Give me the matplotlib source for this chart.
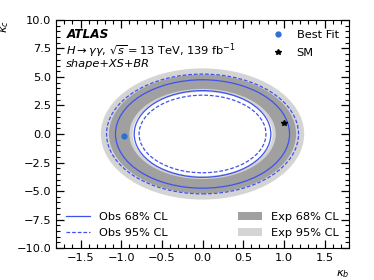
import matplotlib
matplotlib.use("Agg")
import matplotlib.pyplot as plt
from matplotlib.patches import Ellipse, Patch
from matplotlib.lines import Line2D

# ellipse half-widths (kappa_b) and half-heights (kappa_c)
exp95_outer = (1.25, 5.75)
exp68_outer = (1.15, 5.20)
exp68_inner = (0.90, 3.95)
exp95_inner = (0.86, 3.68)
obs68 = [(1.07, 4.75), (0.84, 3.80)]
obs95 = [(1.18, 5.25), (0.78, 3.40)]
best_fit = (-0.97, -0.2)
sm_point = (1.0, 1.0)

blue = '#3f52ee'
dark_gray = '#a0a0a0'
light_gray = '#d4d4d4'
fs = 8.2

fig = plt.figure(figsize=(3.74, 2.8), dpi=100)
ax = fig.add_axes([0.150, 0.114, 0.783, 0.815])

# filled expected bands, stacked from outside in
for (w, h), c in [(exp95_outer, light_gray), (exp68_outer, dark_gray),
                  (exp68_inner, light_gray), (exp95_inner, 'white')]:
    ax.add_patch(Ellipse((0, 0), 2 * w, 2 * h, facecolor=c, edgecolor='none', zorder=1))

for w, h in obs68:
    ax.add_patch(Ellipse((0, 0), 2 * w, 2 * h, facecolor='none', edgecolor=blue, lw=0.9, zorder=3))
for w, h in obs95:
    ax.add_patch(Ellipse((0, 0), 2 * w, 2 * h, facecolor='none', edgecolor=blue, lw=0.9,
                         ls=(0, (3, 1.5)), zorder=3))

ax.plot(*best_fit, 'o', color='#2f6fd0', ms=3.5, zorder=4)
ax.plot(*sm_point, '*', color='black', ms=4, zorder=4)

ax.set_xlabel(r'$\kappa_b$', fontsize=fs, loc='right')
ax.set_ylabel(r'$\kappa_c$', fontsize=fs, loc='top')

ax.text(0.035, 0.935, 'ATLAS', transform=ax.transAxes, fontsize=fs + 0.5,
        fontweight='bold', style='italic', va='center')
ax.text(0.035, 0.865, r'$H\rightarrow\gamma\gamma$, $\sqrt{s}=13$ TeV, 139 fb$^{-1}$',
        transform=ax.transAxes, fontsize=fs, va='center')
ax.text(0.035, 0.805, 'shape+XS+BR', transform=ax.transAxes, fontsize=fs,
        style='italic', va='center')

# legends drawn by hand-free proxies: markers/lines in axes coordinates via legend handles
h_pts = [Line2D([], [], marker='o', color='#2f6fd0', ls='none', ms=3.5),
         Line2D([], [], marker='*', color='black', ls='none', ms=4)]
h_obs = [Line2D([], [], color=blue, lw=0.9),
         Line2D([], [], color=blue, lw=0.9, ls=(0, (3, 1.5)))]
h_exp = [Patch(facecolor=dark_gray), Patch(facecolor=light_gray)]

fig.legend(h_pts, ['Best Fit', 'SM'], loc='upper right', bbox_to_anchor=(0.933, 0.929),
           frameon=False, fontsize=fs, handlelength=1.6, labelspacing=0.7)
fig.legend(h_obs, ['Obs 68% CL', 'Obs 95% CL'], loc='lower left',
           bbox_to_anchor=(0.150, 0.114), frameon=False, fontsize=fs,
           handlelength=2.1, labelspacing=0.5)
fig.legend(h_exp, ['Exp 68% CL', 'Exp 95% CL'], loc='lower right',
           bbox_to_anchor=(0.933, 0.114), frameon=False, fontsize=fs,
           handlelength=2.1, labelspacing=0.5)

ax.set_xlim(-1.8, 1.8)
ax.set_ylim(-10, 10)
ax.minorticks_on()
ax.tick_params(which='both', direction='in', top=True, right=True, labelsize=fs)
ax.tick_params(which='major', length=5.5, width=0.9)
ax.tick_params(which='minor', length=3, width=0.8)

fig.savefig('out.png', dpi=100)
